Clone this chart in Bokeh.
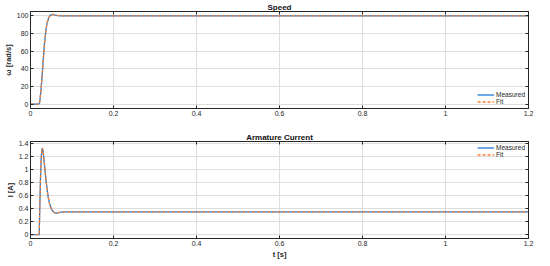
from bokeh.plotting import figure
from bokeh.layouts import column
from bokeh.models import Range1d, FixedTicker, LinearAxis, Legend, LegendItem
from bokeh.embed import file_html
from bokeh.resources import INLINE

# ---- data ----
t_speed = [0, 0.020, 0.022, 0.025, 0.028, 0.031, 0.034, 0.037, 0.040, 0.044, 0.048, 0.052, 0.056, 0.060, 0.066, 0.075, 0.090, 0.12, 1.2]
speed_measured = [0, 0, 2, 14, 32, 52, 70, 83, 92, 98, 100.8, 101.6, 101.5, 101.0, 100.4, 100.1, 100, 100, 100]
speed_fit = [0, 0, 2, 14, 32, 52, 70, 83, 92, 98, 100.8, 101.6, 101.5, 101.0, 100.4, 100.1, 100, 100, 100]

t_current = [0, 0.021, 0.022, 0.024, 0.026, 0.028, 0.030, 0.032, 0.035, 0.038, 0.042, 0.046, 0.050, 0.055, 0.060, 0.065, 0.070, 0.080, 0.10, 1.2]
current_measured = [0, 0, 0.3, 0.85, 1.2, 1.33, 1.30, 1.18, 0.98, 0.80, 0.60, 0.47, 0.40, 0.35, 0.33, 0.33, 0.34, 0.35, 0.35, 0.35]
current_fit = [0, 0, 0.3, 0.85, 1.2, 1.33, 1.30, 1.18, 0.98, 0.80, 0.60, 0.47, 0.40, 0.35, 0.33, 0.33, 0.34, 0.35, 0.35, 0.35]

x_ticks = [0, 0.2, 0.4, 0.6, 0.8, 1.0, 1.2]
x_tick_labels = ["0", "0.2", "0.4", "0.6", "0.8", "1", "1.2"]
speed_ticks = [0, 20, 40, 60, 80, 100]
speed_tick_labels = ["0", "20", "40", "60", "80", "100"]
current_ticks = [0, 0.2, 0.4, 0.6, 0.8, 1.0, 1.2, 1.4]
current_tick_labels = ["0", "0.2", "0.4", "0.6", "0.8", "1", "1.2", "1.4"]

BLUE = "#1f77d4"
ORANGE = "#ff7f2a"
FONT = "Liberation Sans"
AX = "#262626"


def mirror_axis(ticks):
    return LinearAxis(ticker=FixedTicker(ticks=ticks), major_label_text_font_size="1px",
                      major_label_text_color=None, major_label_standoff=0,
                      major_tick_in=3, major_tick_out=0, minor_tick_line_color=None,
                      axis_line_color=AX, major_tick_line_color=AX)


def style(p, yticks, ylabels):
    xa = p.xaxis[0]
    ya = p.yaxis[0]
    xa.ticker = FixedTicker(ticks=x_ticks)
    xa.major_label_overrides = {v: s for v, s in zip(x_ticks, x_tick_labels)}
    ya.ticker = FixedTicker(ticks=yticks)
    ya.major_label_overrides = {v: s for v, s in zip(yticks, ylabels)}
    for a in (xa, ya):
        a.major_tick_in = 3
        a.major_tick_out = 0
        a.minor_tick_line_color = None
        a.axis_line_color = AX
        a.major_tick_line_color = AX
        a.major_label_text_font = FONT
        a.major_label_text_font_size = "7px"
        a.major_label_text_color = AX
        a.axis_label_text_font = FONT
        a.axis_label_text_font_size = "7.5px"
        a.axis_label_text_font_style = "bold"
        a.axis_label_text_color = AX
        a.axis_label_standoff = 1
        a.major_label_standoff = 2
    p.add_layout(mirror_axis(yticks), "right")
    p.add_layout(mirror_axis(x_ticks), "above")
    p.xgrid.grid_line_color = "#dedede"
    p.ygrid.grid_line_color = "#dedede"
    p.xgrid.ticker = FixedTicker(ticks=x_ticks)
    p.ygrid.ticker = FixedTicker(ticks=yticks)
    p.outline_line_color = AX
    p.title.text_font = FONT
    p.title.text_font_size = "8px"
    p.title.text_font_style = "bold"
    p.title.text_color = "#111111"
    p.title.align = "center"
    p.title.standoff = 0
    p.title.offset = 0


def make_legend(r_a, r_b, loc):
    return Legend(items=[LegendItem(label="Measured", renderers=[r_a]),
                         LegendItem(label="Fit", renderers=[r_b])],
                  location=loc, background_fill_alpha=0, border_line_color=None,
                  label_text_font=FONT, label_text_font_size="6.5px", label_height=7,
                  glyph_height=7, glyph_width=17, spacing=0, padding=1, margin=3,
                  label_standoff=2, label_text_color=AX)


p1 = figure(width=534, frame_height=97, output_backend="svg", toolbar_location=None,
            title="Speed", x_range=Range1d(0, 1.2), y_range=Range1d(-5, 105),
            min_border_left=0, min_border_right=6, min_border_top=0, min_border_bottom=0)
p1.yaxis.axis_label = "ω [rad/s]"
r1 = p1.line(t_speed, speed_measured, line_color=BLUE, line_width=1.3)
r2 = p1.line(t_speed, speed_fit, line_color=ORANGE, line_width=1.3, line_dash="3 2")
style(p1, speed_ticks, speed_tick_labels)
p1.add_layout(make_legend(r1, r2, "bottom_right"))

p2 = figure(width=534, frame_height=97, output_backend="svg", toolbar_location=None,
            title="Armature Current", x_range=Range1d(0, 1.2), y_range=Range1d(-0.06, 1.43),
            min_border_left=0, min_border_right=6, min_border_top=23, min_border_bottom=0)
p2.yaxis.axis_label = "I [A]"
p2.xaxis.axis_label = "t [s]"
r3 = p2.line(t_current, current_measured, line_color=BLUE, line_width=1.3)
r4 = p2.line(t_current, current_fit, line_color=ORANGE, line_width=1.3, line_dash="3 2")
style(p2, current_ticks, current_tick_labels)
p2.add_layout(make_legend(r3, r4, "top_right"))

layout = column(p1, p2, spacing=0)
open("out.html", "w").write(file_html(layout, INLINE))
